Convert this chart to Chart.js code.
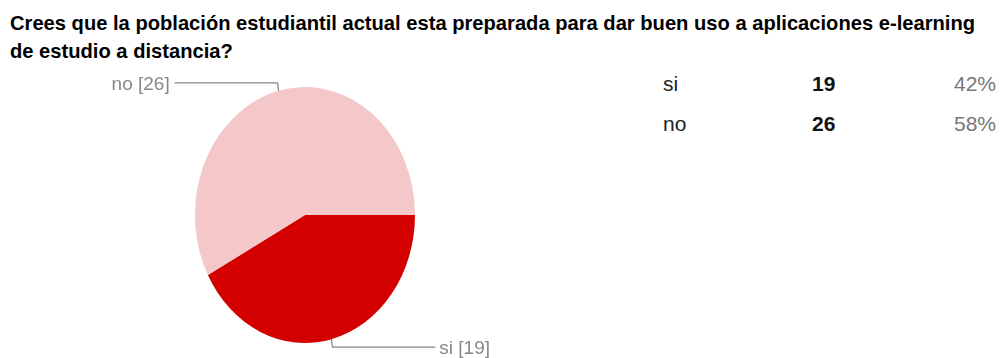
<!DOCTYPE html>
<html>
<head>
<meta charset="utf-8">
<script src="https://cdn.jsdelivr.net/npm/chart.js@4"></script>
<style>
  body { margin: 0; width: 1000px; height: 358px; background: #fff; position: relative; overflow: hidden;
         font-family: "Liberation Sans", Arial, sans-serif; }
  #title { position: absolute; left: 10px; top: 9px; font-weight: bold; font-size: 21px; line-height: 28px;
           color: #000; white-space: nowrap; transform-origin: 0 0; }
  #chartWrap { position: absolute; left: 0; top: 0; width: 620px; height: 358px; }
  .cell { position: absolute; font-size: 21px; line-height: 24px; white-space: nowrap; }
  .lbl { color: #222; }
  .num { font-weight: bold; color: #111; }
  .pct { color: #777; text-align: right; }
</style>
</head>
<body>
<div id="title">Crees que la población estudiantil actual esta preparada para dar buen uso a aplicaciones e-learning<br>de estudio a distancia?</div>
<div id="chartWrap"><canvas id="pie"></canvas></div>
<div id="table"></div>
<script>
document.addEventListener("DOMContentLoaded", function () {
    const categories = ["si", "no"];
    const counts = [19, 26];
    const percents = ["42%", "58%"];
    const colors = ["#d40000", "#f4c8c9"];

    // squeeze title to the width it has in the picture
    const title = document.getElementById("title");
    const w = title.getBoundingClientRect().width;
    title.style.transform = "scaleX(" + (965 / w) + ")";

    // table on the right
    const table = document.getElementById("table");
    categories.forEach((c, i) => {
        const top = 72 + i * 40;
        table.insertAdjacentHTML("beforeend",
            '<div class="cell lbl" style="left:663px;top:' + top + 'px">' + c + '</div>' +
            '<div class="cell num" style="left:812px;top:' + top + 'px">' + counts[i] + '</div>' +
            '<div class="cell pct" style="right:4px;top:' + top + 'px">' + percents[i] + '</div>');
    });

    const yStretch = 128 / 110;

    const stretchPlugin = {
        id: "stretch",
        beforeDatasetsDraw(chart) {
            const arc = chart.getDatasetMeta(0).data[0];
            const ctx = chart.ctx;
            ctx.save();
            ctx.translate(arc.x, arc.y);
            ctx.scale(1, yStretch);
            ctx.translate(-arc.x, -arc.y);
        },
        afterDatasetsDraw(chart) {
            chart.ctx.restore();
        }
    };

    const leaderPlugin = {
        id: "leaders",
        afterDraw(chart) {
            const ctx = chart.ctx;
            const meta = chart.getDatasetMeta(0);
            meta.data.forEach((arc, i) => {
                const mid = (arc.startAngle + arc.endAngle) / 2;
                const r = arc.outerRadius;
                const px = arc.x + Math.cos(mid) * r;
                const py = arc.y + Math.sin(mid) * r * yStretch;
                const ex = arc.x + Math.cos(mid) * (r + 3);
                const ey = arc.y + Math.sin(mid) * (r + 7) * yStretch;
                const right = Math.cos(mid) >= 0 && Math.sin(mid) > 0;
                const hx = right ? ex + 103 : ex - 103;
                ctx.save();
                ctx.strokeStyle = "#666";
                ctx.lineWidth = 1;
                ctx.beginPath();
                ctx.moveTo(px, py);
                ctx.lineTo(ex, ey);
                ctx.lineTo(hx, ey);
                ctx.stroke();
                ctx.fillStyle = "#888";
                ctx.font = '19px "Liberation Sans", Arial, sans-serif';
                ctx.textBaseline = "middle";
                ctx.textAlign = right ? "left" : "right";
                ctx.fillText(categories[i] + " [" + counts[i] + "]", right ? hx + 4 : hx - 5, ey + 2);
                ctx.restore();
            });
        }
    };

    const ctx = document.getElementById("pie").getContext("2d");
    new Chart(ctx, {
        type: "pie",
        data: {
            labels: categories,
            datasets: [{
                data: counts,
                backgroundColor: colors,
                borderWidth: 0
            }]
        },
        options: {
            responsive: true,
            maintainAspectRatio: false,
            animation: false,
            rotation: 90,
            layout: { padding: { left: 195, right: 205, top: 105, bottom: 33 } },
            plugins: {
                legend: { display: false },
                tooltip: { enabled: false }
            }
        },
        plugins: [stretchPlugin, leaderPlugin]
    });
});
</script>
</body>
</html>
